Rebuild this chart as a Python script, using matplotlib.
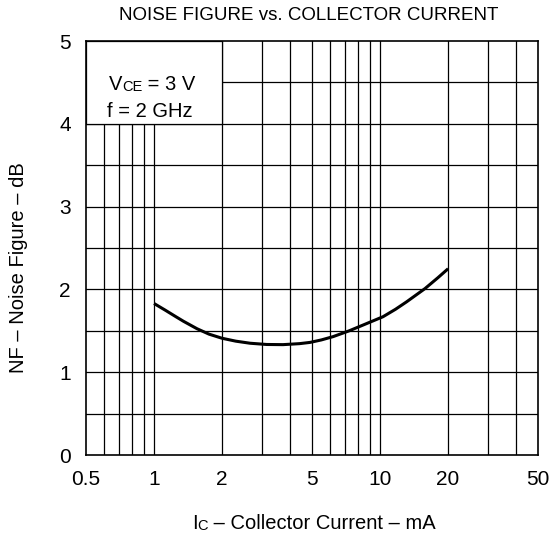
import numpy as np
import matplotlib.pyplot as plt
from matplotlib.patches import Rectangle
from matplotlib.ticker import FixedLocator, NullFormatter, NullLocator

plt.rcParams['font.family'] = ['Liberation Sans', 'DejaVu Sans']

# Curve (IC in mA, NF in dB)
ic_ma = [1.0, 1.12, 1.25, 1.35, 1.55, 1.75, 2.0, 2.3, 2.66, 3.15, 3.72, 4.4,
         4.9, 5.5, 6.2, 7.3, 8.5, 10.3, 11.7, 13.1, 15.8, 18.0, 20.0]
nf_db = [1.83, 1.75, 1.67, 1.615, 1.525, 1.46, 1.41, 1.375, 1.35, 1.335, 1.333, 1.345,
         1.36, 1.39, 1.43, 1.50, 1.575, 1.67, 1.76, 1.85, 2.01, 2.14, 2.25]

x_ticks = [0.5, 1, 2, 5, 10, 20, 50]
x_tick_labels = ['0.5', '1', '2', '5', '10', '20', '50']
x_grid = [0.6, 0.7, 0.8, 0.9, 1, 2, 3, 4, 5, 6, 7, 8, 9, 10, 20, 30, 40]
y_ticks = [0, 1, 2, 3, 4, 5]
y_grid = [0.5, 1, 1.5, 2, 2.5, 3, 3.5, 4, 4.5]

fig = plt.figure(figsize=(5.53, 5.40), dpi=100)
ax = fig.add_axes([0.1555, 0.1574, 0.8175, 0.7666])
ax.set_xscale('log')
ax.set_xlim(0.5, 50)
ax.set_ylim(0, 5)

# grid
for gx in x_grid:
    ax.axvline(gx, color='black', lw=0.9, zorder=1)
for gy in y_grid:
    ax.axhline(gy, color='black', lw=0.9, zorder=1)

# condition box (hides grid behind it)
ax.add_patch(Rectangle((0.5, 4), 1.5, 1, facecolor='white', edgecolor='black',
                       lw=0.9, zorder=2))

ax.plot(ic_ma, nf_db, color='black', lw=2.2, zorder=3,
        solid_capstyle='butt', solid_joinstyle='round')

ax.xaxis.set_major_locator(FixedLocator(x_ticks))
ax.xaxis.set_minor_locator(NullLocator())
ax.xaxis.set_minor_formatter(NullFormatter())
ax.set_xticklabels(x_tick_labels)
ax.set_yticks(y_ticks)
ax.tick_params(length=0, pad=11, labelsize=15)
for s in ax.spines.values():
    s.set_linewidth(1.2)
    s.set_zorder(4)


def chain_text(first, parts):
    """Append text pieces after 'first', bottoms aligned; parts = [(text, size), ...]"""
    t = first
    for txt, size in parts:
        t = ax.annotate(txt, xy=(1, 0), xycoords=t, fontsize=size,
                        va='bottom', ha='left', zorder=5, annotation_clip=False)
    return t


# VCE = 3 V / f = 2 GHz
v = ax.text(0.05, 0.882, 'V', fontsize=14.5, transform=ax.transAxes,
            va='baseline', ha='left', zorder=5)
chain_text(v, [('CE', 10.5), (' = 3 V', 14.5)])
ax.text(0.046, 0.817, 'f = 2 GHz', fontsize=14.5, transform=ax.transAxes,
        va='baseline', ha='left', zorder=5)

fig.text(0.558, 0.963, 'NOISE FIGURE vs. COLLECTOR CURRENT', ha='center',
         va='baseline', fontsize=13.5)

# x label: I + subscript C + rest, centred under the axes
xl_parts = [('C', 10.5), (' \u2013 Collector Current \u2013 mA', 14.5)]
xl = fig.text(0, 0.0198, 'I', fontsize=14.5, va='baseline', ha='left')
r = fig.canvas.get_renderer()
w = xl.get_window_extent(r).width
for txt, size in xl_parts:
    tt = fig.text(0, 0, txt, fontsize=size)
    w += tt.get_window_extent(r).width
    tt.remove()
xl.set_x(0.567 - w / fig.bbox.width / 2)
chain_text(xl, xl_parts)

fig.text(0.033, 0.505, 'NF \u2013 Noise Figure \u2013 dB', rotation=90,
         ha='center', va='center', fontsize=14.5)

fig.savefig('out.png', dpi=100)
